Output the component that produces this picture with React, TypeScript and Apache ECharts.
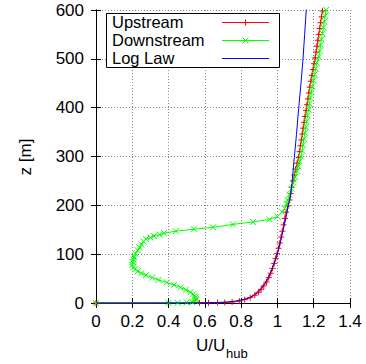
import React, { useEffect, useRef } from "react";
import * as echarts from "echarts";

// [U/Uhub, z(m)]
const upstream: number[][] = [
  [0, 0], [0.57, 0.1], [0.62, 0.3], [0.67, 0.6], [0.71, 1], [0.75, 2], [0.79, 4], [0.82, 7],
  [0.85, 11], [0.875, 16], [0.895, 22], [0.91, 28], [0.925, 35], [0.94, 43], [0.952, 52],
  [0.963, 61], [0.973, 71], [0.982, 81], [0.99, 91], [0.998, 101], [1.006, 112], [1.013, 123],
  [1.02, 135], [1.027, 147], [1.034, 160], [1.041, 173], [1.048, 186], [1.058, 199], [1.067, 211],
  [1.073, 224], [1.079, 237], [1.086, 250], [1.093, 262], [1.1, 274], [1.108, 286], [1.117, 298],
  [1.122, 310], [1.127, 322], [1.132, 334], [1.137, 346], [1.142, 358], [1.147, 370], [1.152, 382],
  [1.158, 394], [1.163, 406], [1.168, 418], [1.173, 430], [1.178, 442], [1.184, 454], [1.19, 466],
  [1.196, 478], [1.202, 490], [1.208, 502], [1.213, 514], [1.218, 526], [1.223, 538], [1.228, 550],
  [1.233, 562], [1.238, 574], [1.243, 586], [1.248, 598], [1.252, 610],
];

const downstream: number[][] = [
  [0, 0], [0.4, 0.2], [0.45, 0.5], [0.5, 1], [0.53, 2], [0.545, 4], [0.55, 6], [0.55, 8],
  [0.548, 11], [0.543, 14], [0.535, 18], [0.52, 22], [0.495, 27], [0.465, 32], [0.43, 37],
  [0.39, 42], [0.345, 47], [0.31, 52], [0.275, 57], [0.25, 61], [0.23, 65], [0.215, 69],
  [0.205, 73], [0.2, 78], [0.202, 84], [0.206, 89], [0.21, 94], [0.218, 101], [0.23, 108],
  [0.24, 114], [0.25, 120], [0.262, 126], [0.275, 131], [0.3, 134], [0.32, 137], [0.35, 140],
  [0.375, 143], [0.44, 147], [0.54, 151], [0.645, 155], [0.755, 161], [0.865, 166], [0.955, 171],
  [1.0, 177], [1.025, 186], [1.04, 194], [1.05, 203], [1.056, 211], [1.066, 222], [1.077, 234],
  [1.088, 246], [1.098, 258], [1.107, 270], [1.115, 280], [1.122, 290], [1.13, 300], [1.136, 312],
  [1.141, 324], [1.146, 336], [1.151, 348], [1.156, 360], [1.161, 372], [1.166, 384], [1.172, 396],
  [1.177, 408], [1.182, 420], [1.187, 432], [1.193, 444], [1.199, 456], [1.205, 468], [1.211, 480],
  [1.217, 492], [1.228, 504], [1.233, 516], [1.238, 528], [1.243, 540], [1.248, 552], [1.253, 564],
  [1.258, 576], [1.263, 588], [1.268, 600], [1.272, 612],
];

const logLaw: number[][] = [
  [0, 0], [0.3, 0.02], [0.5, 0.2], [0.6, 0.5], [0.67, 1], [0.72, 2], [0.77, 4], [0.81, 7],
  [0.845, 11], [0.87, 16], [0.89, 22], [0.91, 30], [0.93, 40], [0.95, 52], [0.965, 65],
  [0.98, 80], [0.995, 95], [1.007, 110], [1.02, 130], [1.035, 155], [1.05, 180], [1.06, 200],
  [1.07, 215], [1.08, 245], [1.093, 298], [1.105, 345], [1.117, 398], [1.13, 450], [1.141, 500],
  [1.15, 550], [1.159, 600], [1.16, 610],
];

const seriesNames = ["Upstream", "Downstream", "Log Law"];
const seriesColors = ["#ff0000", "#00ff00", "#0000ff"];
const xTicks = { min: 0, max: 1.4, interval: 0.2 };
const yTicks = { min: 0, max: 600, interval: 100 };

const PLUS = "path://M5,0L5,10M0,5L10,5";
const CROSS = "path://M0,0L10,10M10,0L0,10";
const FONT = "Liberation Sans";

export default function App() {
  const ref = useRef<HTMLDivElement>(null);
  useEffect(() => {
    if (!ref.current) return;
    const chart = echarts.init(ref.current, undefined, { renderer: "svg" });
    const axisCommon = {
      type: "value" as const,
      axisLine: { show: true, lineStyle: { color: "#000", width: 1 } },
      axisTick: { show: true, inside: true, length: 5, lineStyle: { color: "#000" } },
    };
    const legendRows = [22, 40, 58];
    const graphics: any[] = [
      {
        type: "rect",
        shape: { x: 106.5, y: 13.5, width: 173, height: 54 },
        style: { fill: "#fff", stroke: "#000", lineWidth: 1 },
        z: 100,
      },
    ];
    seriesNames.forEach((n, i) => {
      graphics.push({
        type: "text",
        x: 112,
        y: legendRows[i],
        style: {
          text: n,
          fontFamily: FONT,
          fontSize: 16.5,
          lineHeight: 16,
          fill: "#000",
          verticalAlign: "middle",
          align: "left",
        },
        z: 101,
      });
      graphics.push({
        type: "line",
        shape: { x1: 222, y1: legendRows[i] + 0.5, x2: 269, y2: legendRows[i] + 0.5 },
        style: { stroke: seriesColors[i], lineWidth: 1 },
        z: 101,
      });
    });
    graphics.push({
      type: "polyline",
      shape: { points: [[245.5, 19.5], [245.5, 25.5]] },
      style: { stroke: seriesColors[0], lineWidth: 1 },
      z: 102,
    });
    graphics.push({
      type: "polyline",
      shape: { points: [[242.5, 37.5], [248.5, 43.5]] },
      style: { stroke: seriesColors[1], lineWidth: 1 },
      z: 102,
    });
    graphics.push({
      type: "polyline",
      shape: { points: [[248.5, 37.5], [242.5, 43.5]] },
      style: { stroke: seriesColors[1], lineWidth: 1 },
      z: 102,
    });
    graphics.push({
      type: "text",
      x: 25,
      y: 157,
      rotation: Math.PI / 2,
      style: { text: "z [m]", fontFamily: FONT, fontSize: 17, fill: "#000", align: "center", verticalAlign: "middle" },
    });
    graphics.push({
      type: "text",
      x: 196,
      y: 345,
      style: { text: "U/U", fontFamily: FONT, fontSize: 17, fill: "#000", align: "left", verticalAlign: "middle" },
    });
    graphics.push({
      type: "text",
      x: 226,
      y: 353,
      style: { text: "hub", fontFamily: FONT, fontSize: 13, fill: "#000", align: "left", verticalAlign: "middle" },
    });

    const datas = [upstream, downstream, logLaw];
    const symbols = [PLUS, CROSS, "none"];

    chart.setOption({
      animation: false,
      backgroundColor: "#fff",
      grid: { left: 96, top: 10, right: 16, bottom: 61, containLabel: false },
      xAxis: [
        {
          ...axisCommon,
          position: "bottom",
          ...xTicks,
          axisLabel: {
            show: true,
            margin: 10,
            fontFamily: FONT,
            fontSize: 17,
            color: "#000",
            formatter: (v: number) => String(+v.toFixed(1)),
          },
          splitLine: { show: true, lineStyle: { color: "#888", type: [1, 2], width: 1 } },
        },
        {
          ...axisCommon,
          position: "top",
          ...xTicks,
          axisLabel: { show: false },
          splitLine: { show: false },
        },
      ],
      yAxis: [
        {
          ...axisCommon,
          position: "left",
          ...yTicks,
          axisLabel: { show: true, margin: 12, fontFamily: FONT, fontSize: 17, color: "#000" },
          splitLine: { show: true, lineStyle: { color: "#888", type: [1, 2], width: 1 } },
        },
        {
          ...axisCommon,
          position: "right",
          ...yTicks,
          axisLabel: { show: false },
          splitLine: { show: false },
        },
      ],
      series: datas.map((d, i) => ({
        name: seriesNames[i],
        type: "line",
        data: d,
        xAxisIndex: 0,
        yAxisIndex: 0,
        symbol: symbols[i],
        symbolSize: 6,
        showSymbol: i < 2,
        showAllSymbol: true,
        clip: true,
        z: 2 + i,
        lineStyle: { color: seriesColors[i], width: 1 },
        itemStyle: { color: "rgba(0,0,0,0)", borderColor: seriesColors[i], borderWidth: 1 },
        emphasis: { disabled: true },
      })),
      graphic: graphics,
    });
    return () => chart.dispose();
  }, []);
  return (
    <div
      ref={ref}
      style={{ position: "fixed", left: 0, top: 0, width: 366, height: 364, background: "#fff" }}
    />
  );
}
